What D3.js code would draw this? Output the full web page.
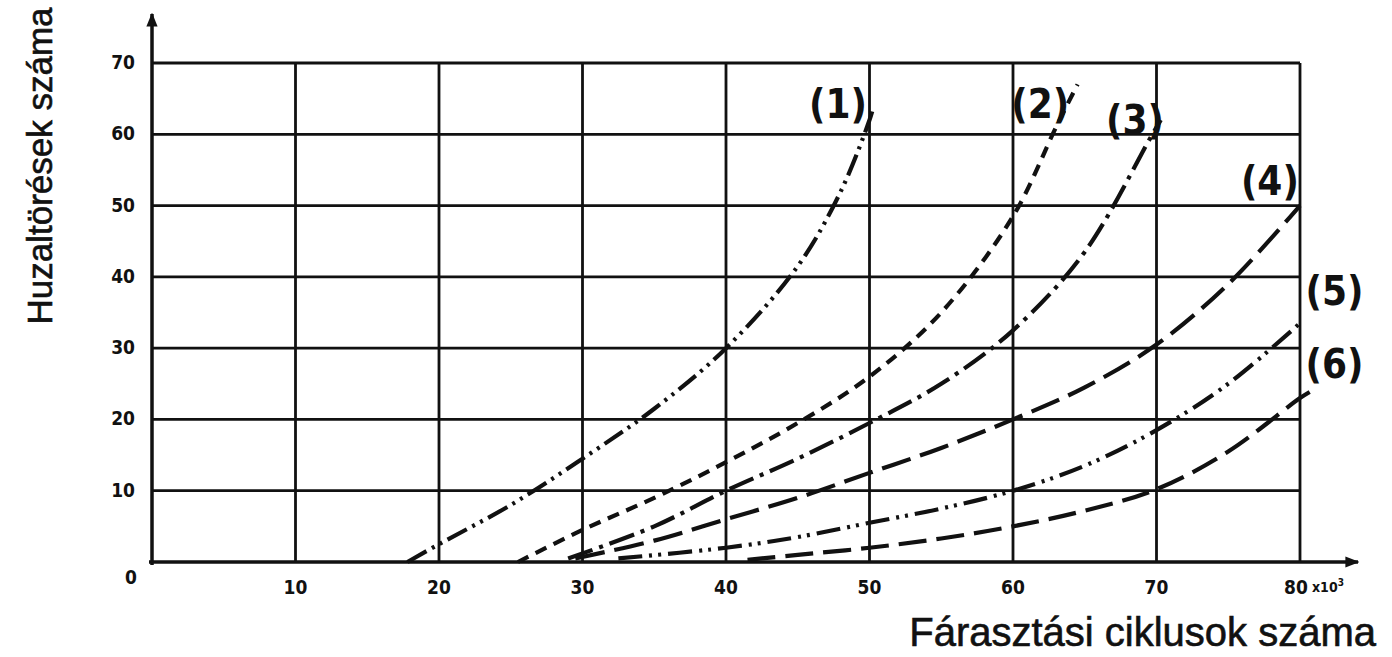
<!DOCTYPE html>
<html lang="hu">
<head>
<meta charset="utf-8">
<title>Huzaltörések száma</title>
<script src="https://cdn.jsdelivr.net/npm/d3@7"></script>
<style>
  body { margin: 0; background: #fff; }
  .tick-lbl { font-family: "DejaVu Sans Condensed", "DejaVu Sans", sans-serif; font-stretch: condensed; font-weight: bold; font-size: 19px; fill: #111; }
  .curve-lbl { font-family: "DejaVu Sans Condensed", "DejaVu Sans", sans-serif; font-stretch: condensed; font-weight: bold; font-size: 40px; fill: #111; }
  .title { font-family: "Liberation Sans", Arial, sans-serif; fill: #111; stroke: #111; stroke-width: 0.6; }
</style>
</head>
<body>
<script>
// tick values
var xTicks = [0, 10, 20, 30, 40, 50, 60, 70, 80];
var yTicks = [0, 10, 20, 30, 40, 50, 60, 70];

// curves (x in 10^3 cycles, y = wire breaks)
var curve1 = [[17.8, 0], [20, 2.5], [25, 8], [30, 14.5], [35, 21.5], [40, 30], [45, 41.5], [48, 52], [50, 62], [50.3, 64]];
var curve2 = [[25.5, 0], [30, 4.5], [35, 9], [40, 14], [45, 19.5], [50, 26], [55, 35], [60, 48.5], [63, 61], [64.5, 67]];
var curve3 = [[29, 0.5], [35, 5], [40, 10], [45, 14.5], [50, 19.5], [55, 25], [60, 32.5], [65, 43.5], [69.6, 59.6], [70.3, 62]];
var curve4 = [[29.5, 0.5], [35, 3], [40, 6], [45, 9], [50, 12.5], [55, 16], [60, 20], [65, 24.5], [70, 30.5], [75, 39], [80, 50]];
var curve5 = [[32.5, 0.5], [40, 2], [45, 3.5], [50, 5.5], [55, 7.5], [60, 10], [65, 13.5], [70, 18.5], [75, 25], [80, 33.5]];
var curve6 = [[41.5, 0.3], [45, 1], [50, 2], [55, 3.3], [60, 5], [65, 7.2], [70, 10.2], [75, 15.5], [80, 23], [80.8, 24]];

var curves = [curve1, curve2, curve3, curve4, curve5, curve6];
var curveNames = ["(1)", "(2)", "(3)", "(4)", "(5)", "(6)"];
var dashes = ["22,6,3,6,3,6", "12,8", "26,7,4,7", "30,10", "24,7,3,6,3,7", "28,10"];
// label anchor points (data units)
var labelPos = [[47.8, 62.3], [61.9, 62.3], [68.5, 60], [77.9, 51.5], [82.4, 36], [82.4, 25.8]];

var w = 1392, h = 657;
var svg = d3.select("body").append("svg").attr("width", w).attr("height", h);

var xScale = d3.scaleLinear().domain([0, 80]).range([152, 1300]);
var yScale = d3.scaleLinear().domain([0, 70]).range([562, 63]);

svg.append("defs").append("marker")
    .attr("id", "arr").attr("viewBox", "0 0 10 10")
    .attr("refX", 9).attr("refY", 5)
    .attr("markerWidth", 4).attr("markerHeight", 4)
    .attr("orient", "auto")
    .append("path").attr("d", "M0,1 L10,5 L0,9 Z").attr("fill", "#111");

// grid
var grid = svg.append("g").attr("stroke", "#111").attr("stroke-width", 2.8);
grid.selectAll("line.v").data(xTicks.slice(1)).enter().append("line")
    .attr("x1", d => xScale(d)).attr("x2", d => xScale(d))
    .attr("y1", yScale(0)).attr("y2", yScale(70));
grid.selectAll("line.h").data(yTicks.slice(1)).enter().append("line")
    .attr("x1", xScale(0)).attr("x2", xScale(80))
    .attr("y1", d => yScale(d)).attr("y2", d => yScale(d));

// axes with arrows
svg.append("line").attr("x1", xScale(0)).attr("x2", xScale(0))
    .attr("y1", yScale(0) + 3).attr("y2", 14)
    .attr("stroke", "#111").attr("stroke-width", 3.5).attr("marker-end", "url(#arr)");
svg.append("line").attr("x1", xScale(0) - 3).attr("x2", 1358)
    .attr("y1", yScale(0)).attr("y2", yScale(0))
    .attr("stroke", "#111").attr("stroke-width", 3.5).attr("marker-end", "url(#arr)");

// tick labels
svg.selectAll("text.yl").data(yTicks).enter().append("text")
    .attr("class", "tick-lbl")
    .attr("x", d => d === 0 ? 137 : 135)
    .attr("y", d => d === 0 ? yScale(d) + 22 : yScale(d) + 6)
    .attr("text-anchor", "end")
    .text(d => d);
svg.selectAll("text.xl").data(xTicks.slice(1)).enter().append("text")
    .attr("class", "tick-lbl")
    .attr("x", d => d === 80 ? xScale(d) - 4 : xScale(d))
    .attr("y", 594)
    .attr("text-anchor", "middle")
    .text(d => d);
svg.append("text").attr("class", "tick-lbl")
    .attr("x", 1312).attr("y", 592).style("font-size", "14px")
    .text("x10").append("tspan").attr("dy", -6).style("font-size", "10px").text("3");

// curves
var line = d3.line().x(d => xScale(d[0])).y(d => yScale(d[1])).curve(d3.curveCatmullRom);
svg.selectAll("path.curve").data(curves).enter().append("path")
    .attr("class", "curve")
    .attr("d", line)
    .attr("fill", "none")
    .attr("stroke", "#111")
    .attr("stroke-width", 4.2)
    .attr("stroke-dasharray", (d, i) => dashes[i]);

// curve labels
svg.selectAll("text.cl").data(curveNames).enter().append("text")
    .attr("class", "curve-lbl")
    .attr("x", (d, i) => xScale(labelPos[i][0]))
    .attr("y", (d, i) => yScale(labelPos[i][1]))
    .attr("text-anchor", "middle")
    .text(d => d);

// titles
svg.append("text").attr("class", "title")
    .attr("transform", "translate(52,166) rotate(-90)")
    .attr("text-anchor", "middle")
    .style("font-size", "35px")
    .text("Huzaltörések száma");
svg.append("text").attr("class", "title")
    .attr("x", 1376).attr("y", 646)
    .attr("text-anchor", "end")
    .style("font-size", "40px")
    .text("Fárasztási ciklusok száma");
</script>
</body>
</html>
